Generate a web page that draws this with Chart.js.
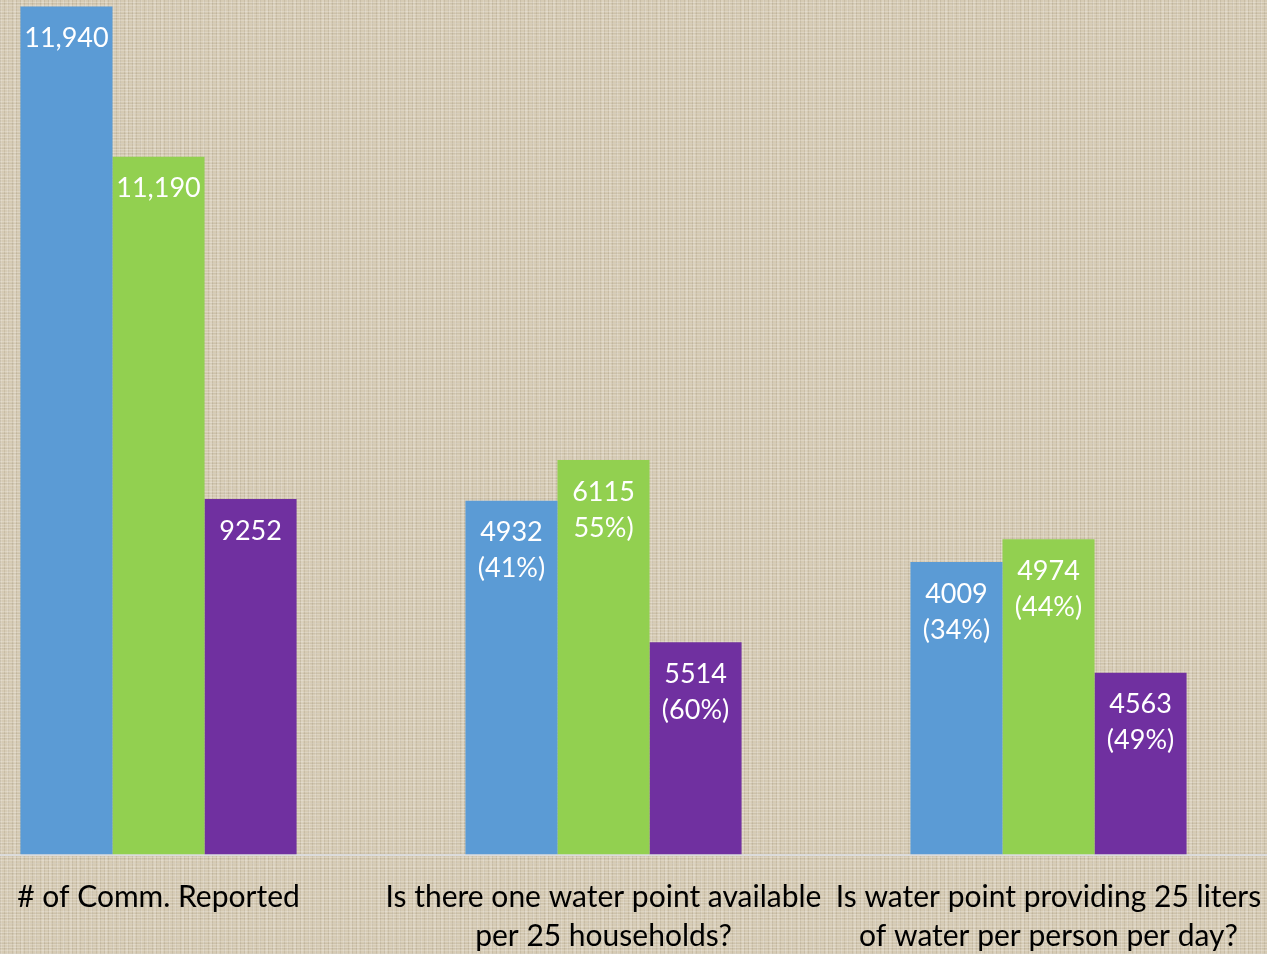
<!DOCTYPE html>
<html>
<head>
<meta charset="utf-8">
<script src="https://cdn.jsdelivr.net/npm/chart.js@4.4.1/dist/chart.umd.min.js"></script>
<style>
  html, body { margin: 0; padding: 0; width: 1267px; height: 954px; overflow: hidden; }
  body {
    background-color: #d6cbb4;
    background-image:
      repeating-linear-gradient(0deg, rgba(255,255,255,0.20) 0px, rgba(255,255,255,0.20) 1px, transparent 1px, transparent 3px),
      repeating-linear-gradient(90deg, rgba(100,85,60,0.12) 0px, rgba(100,85,60,0.12) 1px, transparent 1px, transparent 4px),
      repeating-linear-gradient(90deg, rgba(255,255,255,0.14) 0px, rgba(255,255,255,0.14) 2px, transparent 2px, transparent 7px),
      repeating-linear-gradient(0deg, rgba(100,85,60,0.08) 0px, rgba(100,85,60,0.08) 1px, transparent 1px, transparent 5px);
    position: relative;
  }
  #wrap { position: absolute; left: -64px; top: 0; width: 1335px; height: 954px; }
</style>
</head>
<body>
<div id="wrap"><canvas id="c" width="1335" height="954"></canvas></div>
<script>
// Categories (x-axis tick labels, multi-line)
const categories = [
  ['# of Comm. Reported'],
  ['Is there one water point available', 'per 25 households?'],
  ['Is water point providing 25 liters', 'of water per person per day?']
];

// Plotted bar heights
const blueValues   = [11940, 4982, 4119];
const greenValues  = [9826, 5555, 4438];
const purpleValues = [5006, 2988, 2560];

// Printed labels on the bars
const blueLabels   = [['11,940'], ['4932', '(41%)'], ['4009', '(34%)']];
const greenLabels  = [['11,190'], ['6115', '55%)'], ['4974', '(44%)']];
const purpleLabels = [['9252'], ['5514', '(60%)'], ['4563', '(49%)']];

const FONT = 'Lato, "Open Sans", sans-serif';

const barLabelPlugin = {
  id: 'barLabels',
  afterDatasetsDraw(chart) {
    const ctx = chart.ctx;
    const allLabels = [blueLabels, greenLabels, purpleLabels];
    ctx.save();
    ctx.fillStyle = '#ffffff';
    ctx.textAlign = 'center';
    ctx.textBaseline = 'middle';
    ctx.font = '27px ' + FONT;
    chart.data.datasets.forEach((ds, di) => {
      const meta = chart.getDatasetMeta(di);
      meta.data.forEach((bar, i) => {
        const lines = allLabels[di][i];
        lines.forEach((t, k) => {
          ctx.fillText(t, bar.x, bar.y + 32 + k * 36);
        });
      });
    });
    ctx.restore();
  }
};

new Chart(document.getElementById('c'), {
  type: 'bar',
  data: {
    labels: categories,
    datasets: [
      { data: blueValues, backgroundColor: '#5b9bd5' },
      { data: greenValues, backgroundColor: '#92d050' },
      { data: purpleValues, backgroundColor: '#7030a0' }
    ]
  },
  options: {
    responsive: false,
    animation: false,
    devicePixelRatio: 1,
    layout: { padding: 0, autoPadding: false },
    categoryPercentage: 0.6205,
    barPercentage: 1,
    plugins: { legend: { display: false }, tooltip: { enabled: false } },
    scales: {
      x: {
        grid: { display: false, drawTicks: false },
        border: { display: true, color: '#dcdcdc', width: 2 },
        ticks: {
          color: '#000000',
          font: { family: FONT, size: 30, lineHeight: 1.3 },
          maxRotation: 0,
          autoSkip: false,
          padding: 23
        },
        afterFit(scale) {
          scale.height = 99.5;
          scale.paddingLeft = 0;
          scale.paddingRight = 0;
        }
      },
      y: {
        display: false,
        min: 0,
        max: 12032
      }
    }
  },
  plugins: [barLabelPlugin]
});
</script>
</body>
</html>
